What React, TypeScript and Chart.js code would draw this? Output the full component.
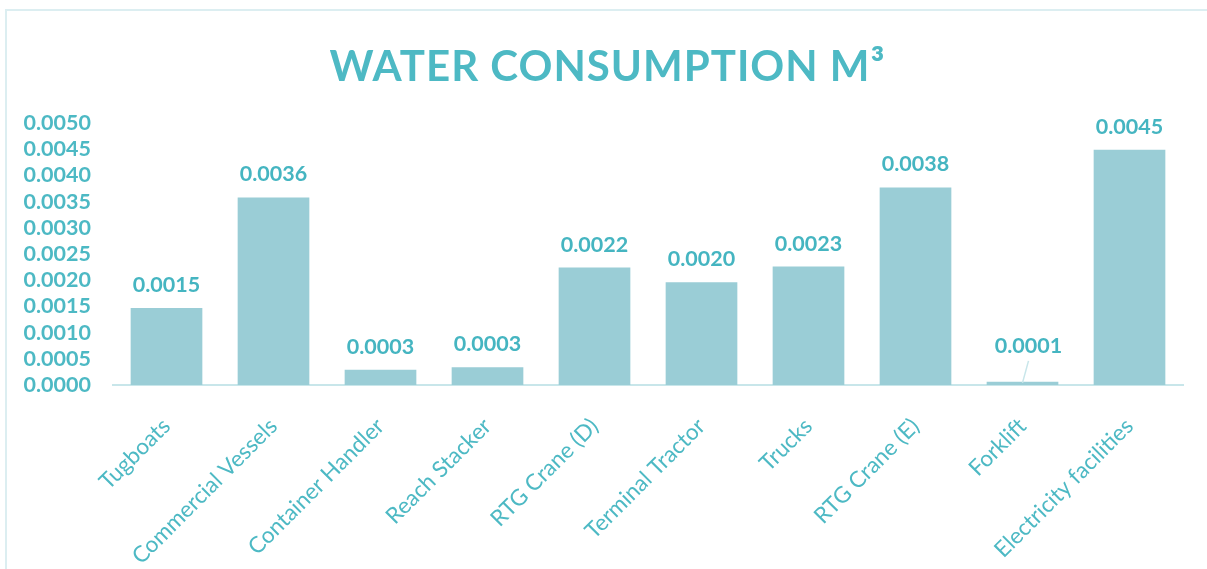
import React, { useEffect, useRef } from "react";
import { Chart, registerables } from "chart.js";

Chart.register(...registerables);

// Water consumption per equipment / facility type (m³)
const categories = [
  "Tugboats",
  "Commercial Vessels",
  "Container Handler",
  "Reach Stacker",
  "RTG Crane (D)",
  "Terminal Tractor",
  "Trucks",
  "RTG Crane (E)",
  "Forklift",
  "Electricity facilities",
];
const waterUse = [0.00147, 0.00358, 0.00029, 0.00034, 0.00224, 0.00196, 0.00226, 0.00377, 0.00006, 0.00449];

const yMin = 0;
const yMax = 0.005;
const yStep = 0.0005;

const titleText = "WATER CONSUMPTION M³";

const TEXT = "#4DB9C4";
const LABEL = "#45B5C1";
const BAR = "#9ACDD6";
const AXIS = "#C8E6EA";
const FRAME = "#DCEEF1";
const FONT = "Lato, 'Open Sans', sans-serif";

const fmt = (v: number) => (Math.round(v * 10000) / 10000).toFixed(4);

// Frame, title and value labels drawn straight onto the canvas
const decorations = {
  id: "decorations",
  beforeDraw(chart: any) {
    const { ctx, width, height } = chart;
    ctx.save();
    ctx.fillStyle = "#ffffff";
    ctx.fillRect(0, 0, width, height);
    ctx.strokeStyle = FRAME;
    ctx.lineWidth = 2;
    ctx.beginPath();
    ctx.moveTo(6, height);
    ctx.lineTo(6, 10);
    ctx.lineTo(width, 10);
    ctx.stroke();
    ctx.restore();
  },
  afterDraw(chart: any) {
    const { ctx, width } = chart;
    ctx.save();
    ctx.fillStyle = TEXT;
    ctx.font = `bold 42px ${FONT}`;
    ctx.textAlign = "center";
    ctx.textBaseline = "alphabetic";
    try {
      (ctx as any).letterSpacing = "1px";
    } catch (e) {}
    ctx.fillText(titleText, width / 2 + 4, 81);
    try {
      (ctx as any).letterSpacing = "0px";
    } catch (e) {}

    const meta = chart.getDatasetMeta(0);
    const ds = chart.data.datasets[0].data as number[];
    ctx.font = `bold 21.5px ${FONT}`;
    ctx.fillStyle = LABEL;
    ctx.textAlign = "center";
    meta.data.forEach((bar: any, i: number) => {
      const h = bar.base - bar.y;
      const text = fmt(ds[i]);
      if (h < 8) {
        // tiny bar: raise the label and connect it with a leader line
        const lx = bar.x + 6;
        const ly = bar.y - 29;
        ctx.fillText(text, lx, ly);
        ctx.strokeStyle = AXIS;
        ctx.lineWidth = 1.5;
        ctx.beginPath();
        ctx.moveTo(lx, ly + 8);
        ctx.lineTo(bar.x, bar.y + 1);
        ctx.stroke();
      } else {
        ctx.fillText(text, bar.x, bar.y - 16);
      }
    });
    ctx.restore();
  },
};

export default function App() {
  const ref = useRef<HTMLCanvasElement>(null);

  useEffect(() => {
    if (!ref.current) return;
    const chart = new Chart(ref.current, {
      type: "bar",
      data: {
        labels: categories,
        datasets: [
          {
            data: waterUse,
            backgroundColor: BAR,
            borderWidth: 0,
            barPercentage: 0.67,
            categoryPercentage: 1,
          },
        ],
      },
      options: {
        responsive: false,
        animation: false,
        layout: { padding: { top: 123, left: 24, right: 24, bottom: 0 } },
        plugins: {
          legend: { display: false },
          title: { display: false },
          tooltip: { enabled: false },
        },
        scales: {
          x: {
            grid: { display: false, drawTicks: false },
            border: { display: true, color: AXIS, width: 2 },
            ticks: {
              color: TEXT,
              font: { family: FONT, size: 22.5 },
              minRotation: 45,
              maxRotation: 45,
              autoSkip: false,
              padding: 28,
              labelOffset: 0,
            },
            afterFit(scale: any) {
              scale.height = 184;
            },
          },
          y: {
            min: yMin,
            max: yMax,
            grid: { display: false, drawTicks: false },
            border: { display: false },
            ticks: {
              stepSize: yStep,
              autoSkip: false,
              color: TEXT,
              font: { family: FONT, size: 21.5, weight: "bold" },
              padding: 22,
              callback: (v: any) => fmt(Number(v)),
            },
            afterFit(scale: any) {
              scale.width = 89;
            },
          },
        },
      },
      plugins: [decorations],
    });
    return () => chart.destroy();
  }, []);

  return (
    <div style={{ position: "absolute", top: 0, left: 0, width: 1207, height: 569 }}>
      <canvas ref={ref} width={1207} height={569} style={{ display: "block" }} />
    </div>
  );
}
